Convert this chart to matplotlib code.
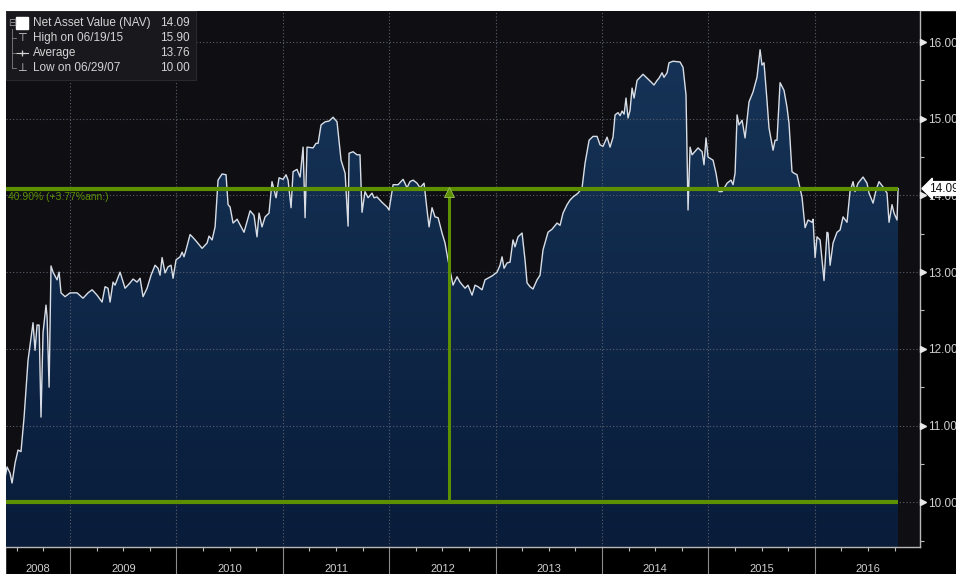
import matplotlib
matplotlib.use("Agg")
import matplotlib.pyplot as plt
import numpy as np
from matplotlib.colors import LinearSegmentedColormap
from matplotlib.patches import Rectangle
import matplotlib.transforms as mtransforms

plt.rcParams['font.family'] = ['Liberation Sans', 'DejaVu Sans']

# NAV history (decimal years, price)
dates = [2008.389, 2008.408, 2008.436, 2008.455, 2008.483, 2008.511, 2008.539, 2008.568, 2008.605, 2008.652,
         2008.671, 2008.690, 2008.709, 2008.727, 2008.746, 2008.774, 2008.784, 2008.803, 2008.821, 2008.840,
         2008.878, 2008.897, 2008.915, 2008.953, 2009.000, 2009.066, 2009.122, 2009.169, 2009.207, 2009.254,
         2009.301, 2009.329, 2009.357, 2009.376, 2009.404, 2009.423, 2009.470, 2009.517, 2009.564, 2009.592,
         2009.630, 2009.658, 2009.686, 2009.724, 2009.761, 2009.799, 2009.827, 2009.846, 2009.865, 2009.893,
         2009.921, 2009.949, 2009.968, 2009.996, 2010.034, 2010.053, 2010.071, 2010.090, 2010.128, 2010.156,
         2010.194, 2010.241, 2010.288, 2010.306, 2010.335, 2010.363, 2010.391, 2010.429, 2010.466, 2010.485,
         2010.504, 2010.532, 2010.570, 2010.635, 2010.692, 2010.729, 2010.757, 2010.776, 2010.804, 2010.833,
         2010.870, 2010.898, 2010.936, 2010.964, 2011.002, 2011.030, 2011.049, 2011.077, 2011.096, 2011.133,
         2011.162, 2011.190, 2011.209, 2011.227, 2011.284, 2011.312, 2011.331, 2011.359, 2011.397, 2011.434,
         2011.472, 2011.509, 2011.547, 2011.585, 2011.613, 2011.622, 2011.660, 2011.697, 2011.725, 2011.744,
         2011.772, 2011.801, 2011.838, 2011.857, 2011.885, 2011.932, 2011.979, 2011.998, 2012.036, 2012.083,
         2012.130, 2012.167, 2012.195, 2012.224, 2012.261, 2012.289, 2012.327, 2012.355, 2012.374, 2012.402,
         2012.430, 2012.459, 2012.496, 2012.524, 2012.552, 2012.599, 2012.637, 2012.665, 2012.712, 2012.740,
         2012.778, 2012.806, 2012.834, 2012.872, 2012.900, 2012.966, 2013.013, 2013.041, 2013.060, 2013.079,
         2013.107, 2013.135, 2013.163, 2013.182, 2013.210, 2013.248, 2013.276, 2013.295, 2013.323, 2013.351,
         2013.389, 2013.417, 2013.445, 2013.492, 2013.530, 2013.577, 2013.605, 2013.633, 2013.671, 2013.699,
         2013.727, 2013.774, 2013.812, 2013.840, 2013.878, 2013.915, 2013.953, 2013.981, 2014.009, 2014.047,
         2014.075, 2014.103, 2014.122, 2014.150, 2014.169, 2014.188, 2014.207, 2014.225, 2014.244, 2014.263,
         2014.282, 2014.301, 2014.329, 2014.357, 2014.385, 2014.423, 2014.460, 2014.488, 2014.517, 2014.535,
         2014.564, 2014.582, 2014.611, 2014.629, 2014.667, 2014.733, 2014.761, 2014.789, 2014.808, 2014.827,
         2014.846, 2014.902, 2014.940, 2014.958, 2014.977, 2014.996, 2015.043, 2015.071, 2015.099, 2015.128,
         2015.175, 2015.212, 2015.231, 2015.250, 2015.269, 2015.287, 2015.316, 2015.344, 2015.381, 2015.419,
         2015.456, 2015.485, 2015.503, 2015.522, 2015.550, 2015.569, 2015.607, 2015.626, 2015.644, 2015.673,
         2015.710, 2015.738, 2015.757, 2015.785, 2015.804, 2015.832, 2015.879, 2015.908, 2015.936, 2015.973,
         2015.983, 2016.002, 2016.020, 2016.049, 2016.086, 2016.114, 2016.124, 2016.143, 2016.171, 2016.208,
         2016.237, 2016.265, 2016.302, 2016.330, 2016.359, 2016.377, 2016.406, 2016.453, 2016.490, 2016.509,
         2016.547, 2016.575, 2016.603, 2016.641, 2016.678, 2016.697, 2016.725, 2016.744, 2016.772, 2016.782]

nav = [10.32, 10.46, 10.38, 10.25, 10.51, 10.68, 10.66, 11.11, 11.85, 12.34,
       11.98, 12.31, 12.31, 11.11, 12.21, 12.57, 12.42, 11.50, 13.08, 13.00,
       12.90, 13.00, 12.73, 12.68, 12.73, 12.73, 12.66, 12.73, 12.77, 12.70,
       12.61, 12.81, 12.79, 12.61, 12.87, 12.83, 13.00, 12.79, 12.86, 12.91,
       12.87, 12.92, 12.68, 12.79, 12.96, 13.09, 13.05, 12.96, 13.19, 12.99,
       13.07, 13.09, 12.92, 13.16, 13.20, 13.26, 13.20, 13.29, 13.49, 13.45,
       13.39, 13.31, 13.38, 13.47, 13.42, 13.59, 14.20, 14.28, 14.27, 13.88,
       13.85, 13.64, 13.69, 13.52, 13.80, 13.74, 13.46, 13.77, 13.59, 13.72,
       13.77, 14.18, 13.97, 14.23, 14.21, 14.27, 14.20, 13.84, 14.31, 14.34,
       14.24, 14.63, 13.71, 14.63, 14.62, 14.68, 14.68, 14.92, 14.96, 14.97,
       15.02, 14.96, 14.46, 14.29, 13.60, 14.55, 14.57, 14.53, 14.53, 13.78,
       14.05, 13.97, 14.03, 13.97, 13.98, 13.91, 13.85, 13.81, 14.14, 14.14,
       14.21, 14.10, 14.18, 14.20, 14.16, 14.10, 14.16, 13.81, 13.59, 13.84,
       13.72, 13.71, 13.51, 13.38, 13.16, 12.83, 12.94, 12.87, 12.79, 12.83,
       12.70, 12.83, 12.81, 12.77, 12.90, 12.95, 13.00, 13.09, 13.20, 13.05,
       13.12, 13.13, 13.42, 13.33, 13.46, 13.51, 13.16, 12.86, 12.81, 12.78,
       12.90, 12.96, 13.29, 13.52, 13.56, 13.64, 13.61, 13.77, 13.88, 13.94,
       13.98, 14.03, 14.10, 14.42, 14.72, 14.77, 14.77, 14.66, 14.64, 14.76,
       14.63, 14.76, 15.05, 15.08, 15.04, 15.10, 15.06, 15.27, 15.01, 15.11,
       15.40, 15.27, 15.50, 15.54, 15.58, 15.53, 15.48, 15.44, 15.50, 15.53,
       15.60, 15.54, 15.60, 15.73, 15.75, 15.74, 15.67, 15.31, 13.81, 14.63,
       14.53, 14.62, 14.57, 14.40, 14.75, 14.50, 14.46, 14.29, 14.05, 14.05,
       14.16, 14.20, 14.14, 14.29, 15.05, 14.92, 14.98, 14.75, 15.22, 15.35,
       15.54, 15.90, 15.70, 15.73, 15.24, 14.88, 14.59, 14.72, 14.72, 15.47,
       15.37, 15.15, 14.94, 14.31, 14.29, 14.27, 13.98, 13.58, 13.68, 13.65,
       13.69, 13.19, 13.46, 13.42, 12.89, 13.52, 13.51, 13.09, 13.38, 13.52,
       13.55, 13.72, 13.65, 14.05, 14.18, 14.05, 14.16, 14.24, 14.16, 14.03,
       13.90, 14.07, 14.18, 14.11, 14.03, 13.65, 13.88, 13.77, 13.68, 14.09]

years = [2008, 2009, 2010, 2011, 2012, 2013, 2014, 2015, 2016]
yticks = [10, 11, 12, 13, 14, 15, 16]

last_nav = 14.09
low_nav = 10.00
change_date = 2012.56
change_text = "40.90% (+3.77%ann.)"

legend_labels = ["Net Asset Value (NAV)", "High on 06/19/15", "Average", "Low on 06/29/07"]
legend_values = ["14.09", "15.90", "13.76", "10.00"]

green = '#5c9000'
W, H = 956, 574

fig = plt.figure(figsize=(W / 100, H / 100), dpi=100, facecolor='black')
fig.patches.append(Rectangle((0, 1 - 10 / H), 1, 10 / H, transform=fig.transFigure, color='white', zorder=-5))
fig.patches.append(Rectangle((0, 0), 5 / W, 1, transform=fig.transFigure, color='white', zorder=-5))

ax = fig.add_axes([6 / W, 1 - 547 / H, 914 / W, 536 / H])
ax.set_facecolor('#0e0e13')
x0, x1 = 2008.398, 2016.988
y0, y1 = 9.416, 16.405

# area with vertical gradient
poly = ax.fill_between(dates, nav, y0, color='none', lw=0)
cmap = LinearSegmentedColormap.from_list('navy', ['#091c3a', '#163458'])
grad = np.linspace(0, 1, 256).reshape(-1, 1)
img = ax.imshow(grad, extent=[x0, x1, y0, 16.0], origin='lower', aspect='auto', cmap=cmap, zorder=1)
img.set_clip_path(poly.get_paths()[0], transform=ax.transData)
ax.plot(dates, nav, color='#d9dee6', lw=1.0, zorder=3)

# dotted grid
for yv in yticks:
    ax.axhline(yv, color='#5a606c', lw=0.8, ls=(0, (1, 2)), zorder=2)
for yr in years[1:]:
    ax.axvline(yr, color='#5a606c', lw=0.8, ls=(0, (1, 2)), zorder=2)

# green study lines
ax.hlines([last_nav, low_nav], x0, dates[-1], color=green, lw=3.0, zorder=4)
ax.vlines(change_date, low_nav, last_nav, color=green, lw=2.2, zorder=4)
ax.plot(change_date, last_nav - 0.05, marker='^', ms=7, color=green, mec='#9cc25a', mew=0.6, zorder=5)
ax.text(x0 + 0.02, last_nav - 0.04, change_text, color=green, fontsize=7.5, va='top', ha='left', zorder=5)

# right axis
ax.yaxis.tick_right()
ax.set_yticks(yticks)
ax.set_yticklabels([f"{v:.2f}" for v in yticks])
ax.set_yticks([v + 0.5 for v in yticks[:-1]] + [9.5], minor=True)
ax.tick_params(axis='y', which='major', length=0, pad=6, labelsize=8.5, labelcolor='#d0d0d0')
ax.tick_params(axis='y', which='minor', length=3, width=0.8, color='#bbbbbb', direction='out')
ytr = mtransforms.blended_transform_factory(ax.transAxes, ax.transData)
ax.plot([1.003] * len(yticks), yticks, ls='none', marker='>', ms=4.5, color='#e8e8e8',
        transform=ytr, clip_on=False, zorder=6)

# last value tag
ax.text(1.010, last_nav, f"{last_nav:.2f}", transform=ytr, fontsize=8.5, color='#111111',
        va='center', ha='left', zorder=7, clip_on=False,
        bbox=dict(boxstyle='larrow,pad=0.08', fc='white', ec='white'))

# bottom axis
ax.set_xticks(years[1:])
ax.set_xticklabels([])
quarters = [y + q for y in years for q in (0.25, 0.5, 0.75)]
ax.set_xticks([q for q in quarters if x0 < q < x1], minor=True)
ax.tick_params(axis='x', which='major', length=20, width=0.8, color='#8c8c8c', direction='out')
ax.tick_params(axis='x', which='minor', length=3, width=0.8, color='#bbbbbb', direction='out')
ax.set_xlim(x0, x1)
ax.set_ylim(y0, y1)
xtr = mtransforms.blended_transform_factory(ax.transData, ax.transAxes)
for yr in years:
    left = max(yr, x0)
    right = min(yr + 1, x1)
    ax.text((left + right) / 2, -0.041, str(yr), transform=xtr, ha='center', va='center',
            fontsize=8, color='#cfcfcf', clip_on=False)

for side in ['top', 'left']:
    ax.spines[side].set_visible(False)
for side in ['bottom', 'right']:
    ax.spines[side].set_color('#b8b8b8')
    ax.spines[side].set_linewidth(1.0)

# legend box
ax.add_patch(Rectangle((0, 0.871), 0.208, 0.129, transform=ax.transAxes, fc='#19191d',
                       ec='#2a2a2e', lw=0.8, zorder=8))
rows = [0.978, 0.950, 0.922, 0.894]
for i, (lab, val) in enumerate(zip(legend_labels, legend_values)):
    ax.text(0.0295, rows[i], lab, transform=ax.transAxes, fontsize=8.5, color='#d4d4d4',
            va='center', ha='left', zorder=9)
    ax.text(0.201, rows[i], val, transform=ax.transAxes, fontsize=8.5, color='#d4d4d4',
            va='center', ha='right', zorder=9)
ax.plot(0.0175, rows[0], marker='s', ms=8, color='white', transform=ax.transAxes, zorder=9)
ax.text(0.0178, rows[1], '\u22a4', transform=ax.transAxes, fontsize=8, color='#d4d4d4',
        va='center', ha='center', zorder=9, family='DejaVu Sans')
ax.plot([0.011, 0.024], [rows[2]] * 2, color='#d4d4d4', lw=0.8, transform=ax.transAxes, zorder=9)
ax.plot(0.0178, rows[2], marker='+', ms=5, mew=0.9, color='#d4d4d4', transform=ax.transAxes, zorder=9)
ax.text(0.0178, rows[3], '\u22a5', transform=ax.transAxes, fontsize=8, color='#d4d4d4',
        va='center', ha='center', zorder=9, family='DejaVu Sans')
ax.text(0.0065, rows[0], '\u229f', transform=ax.transAxes, fontsize=7, color='#a0a0a0',
        va='center', ha='center', zorder=9, family='DejaVu Sans')
ax.plot([0.0065, 0.0065], [rows[0] - 0.012, rows[3]], color='#808080', lw=0.6,
        transform=ax.transAxes, zorder=9)
for r in rows[1:]:
    ax.plot([0.0065, 0.011], [r, r], color='#808080', lw=0.6, transform=ax.transAxes, zorder=9)
ax.set_xlim(x0, x1)
ax.set_ylim(y0, y1)

fig.savefig('out.png', dpi=100, facecolor=fig.get_facecolor())
